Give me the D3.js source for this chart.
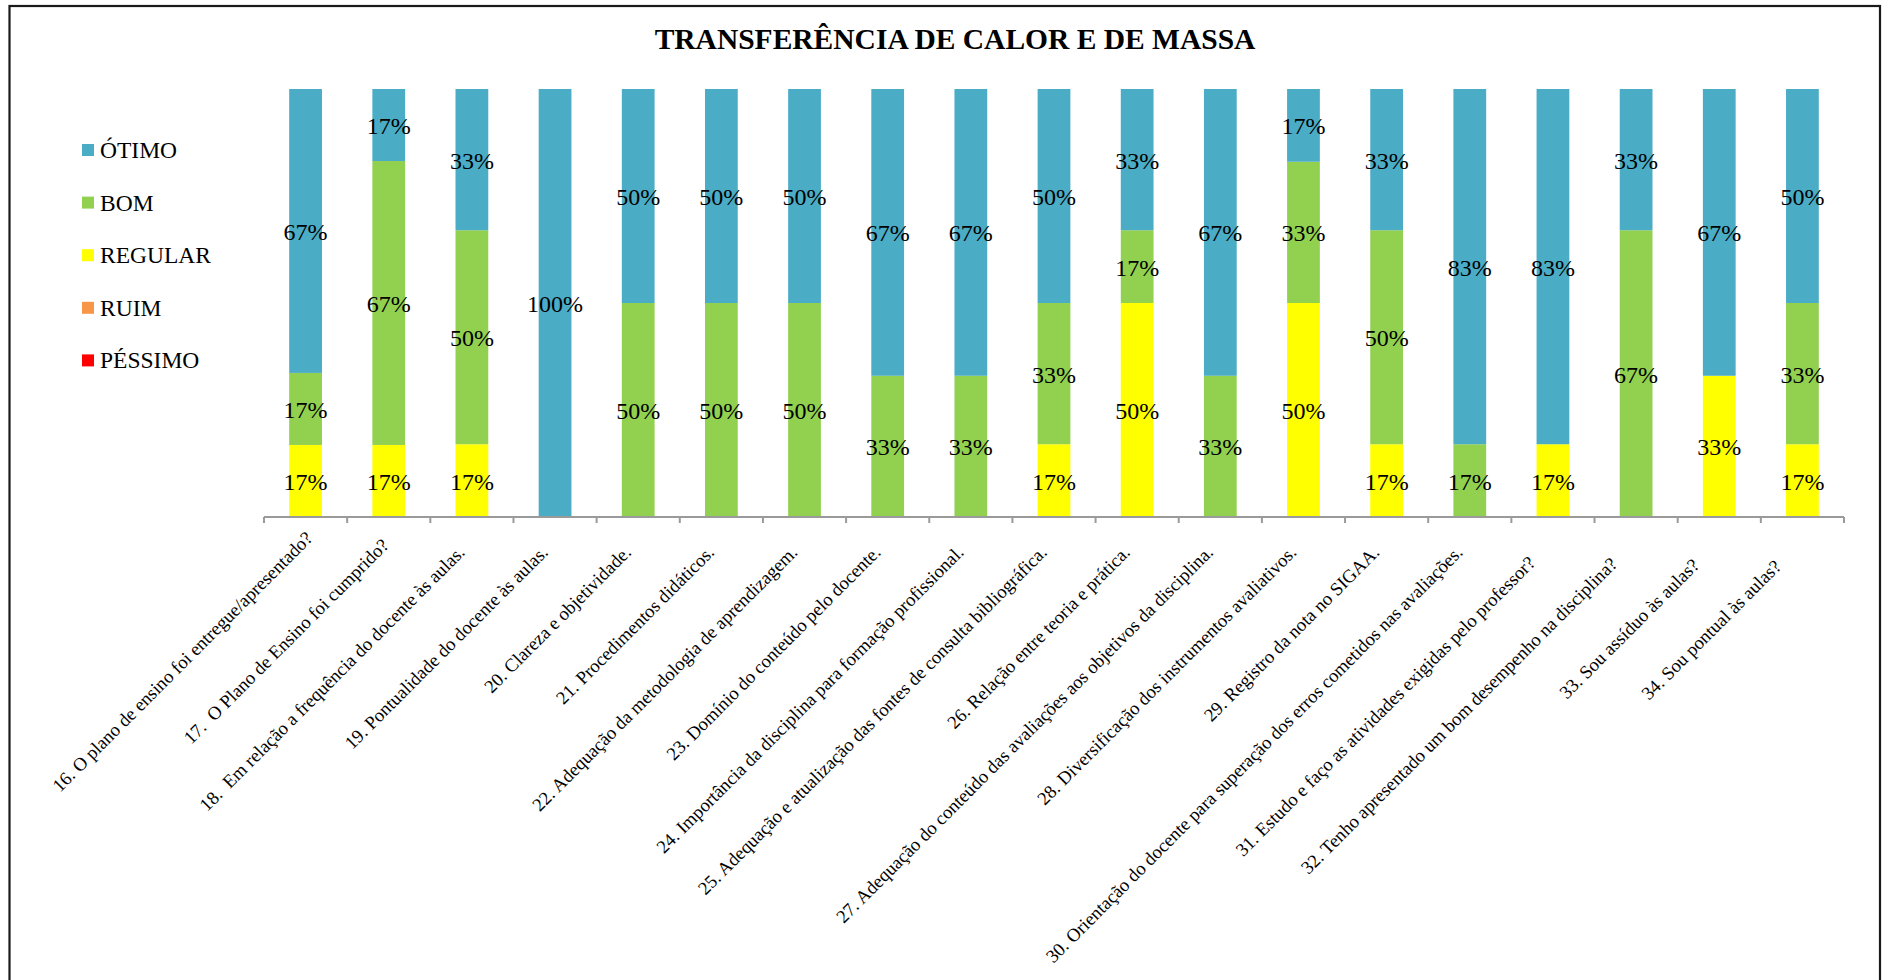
<!DOCTYPE html>
<html lang="pt">
<head>
<meta charset="utf-8">
<title>Transferência de Calor e de Massa</title>
<script src="https://cdn.jsdelivr.net/npm/d3@7"></script>
<style>
  html, body { margin: 0; padding: 0; background: #ffffff; }
  svg { display: block; }
  text { font-family: "Liberation Serif", "Times New Roman", Times, serif; fill: #000; }
</style>
</head>
<body>
<svg id="chart" width="1883" height="980"></svg>
<script>
// Questionnaire items (x categories)
const questions = [
  "16. O plano de ensino foi entregue/apresentado?",
  "17.  O Plano de Ensino foi cumprido?",
  "18.  Em relação a frequência do docente às aulas.",
  "19. Pontualidade do docente às aulas.",
  "20. Clareza e objetividade.",
  "21. Procedimentos didáticos.",
  "22. Adequação da metodologia de aprendizagem.",
  "23. Domínio do conteúdo pelo docente.",
  "24. Importância da disciplina para formação profissional.",
  "25. Adequação e atualização das fontes de consulta bibliográfica.",
  "26. Relação entre teoria e prática.",
  "27. Adequação do conteúdo das avaliações aos objetivos da disciplina.",
  "28. Diversificação dos instrumentos avaliativos.",
  "29. Registro da nota no SIGAA.",
  "30. Orientação do docente para superação dos erros cometidos nas avaliações.",
  "31. Estudo e faço as atividades exigidas pelo professor?",
  "32. Tenho apresentado um bom desempenho na disciplina?",
  "33. Sou assíduo às aulas?",
  "34. Sou pontual às aulas?"
];

// Answer shares (%) per rating, one value per question
const pessimo = [0, 0, 0, 0, 0, 0, 0, 0, 0, 0, 0, 0, 0, 0, 0, 0, 0, 0, 0];
const ruim    = [0, 0, 0, 0, 0, 0, 0, 0, 0, 0, 0, 0, 0, 0, 0, 0, 0, 0, 0];
const regular = [17, 17, 17, 0, 0, 0, 0, 0, 0, 17, 50, 0, 50, 17, 0, 17, 0, 33, 17];
const bom     = [17, 67, 50, 0, 50, 50, 50, 33, 33, 33, 17, 33, 33, 50, 17, 0, 67, 0, 33];
const otimo   = [67, 17, 33, 100, 50, 50, 50, 67, 67, 50, 33, 67, 17, 33, 83, 83, 33, 67, 50];

// Series, stacked bottom-to-top
const seriesNames  = ["PÉSSIMO", "RUIM", "REGULAR", "BOM", "ÓTIMO"];
const seriesValues = [pessimo, ruim, regular, bom, otimo];
const seriesColors = ["#FF0000", "#F79646", "#FFFF00", "#92D050", "#4BACC6"];

const title = "TRANSFERÊNCIA DE CALOR E DE MASSA";

// ---- layout ----
const W = 1883, H = 980;
const plot = { left: 264, right: 1844, top: 89, bottom: 517 };

const svg = d3.select("#chart");

// outer frame of the chart
svg.append("rect")
  .attr("x", 9.5).attr("y", 6)
  .attr("width", 1880 - 9.5).attr("height", H + 20)
  .attr("fill", "none")
  .attr("stroke", "#1a1a1a")
  .attr("stroke-width", 2.2);

// title
svg.append("text")
  .attr("x", 955).attr("y", 49)
  .attr("text-anchor", "middle")
  .style("font-weight", "bold")
  .style("font-size", "29.5px")
  .text(title);

// rows for the stack
const rows = questions.map((q, i) => {
  const r = { q };
  seriesNames.forEach((s, k) => { r[s] = seriesValues[k][i]; });
  return r;
});

const stack = d3.stack()
  .keys(seriesNames)
  .offset(d3.stackOffsetExpand);
const layers = stack(rows);

const x = d3.scaleBand()
  .domain(questions)
  .range([plot.left, plot.right])
  .paddingInner(0.606)
  .paddingOuter(0.303);

const y = d3.scaleLinear()
  .domain([0, 1])
  .range([plot.bottom, plot.top]);

const color = d3.scaleOrdinal().domain(seriesNames).range(seriesColors);

// bars
const gBars = svg.append("g");
layers.forEach(layer => {
  gBars.append("g")
    .attr("fill", color(layer.key))
    .selectAll("rect")
    .data(layer.filter(d => d.data[layer.key] > 0))
    .join("rect")
      .attr("x", d => x(d.data.q))
      .attr("width", x.bandwidth())
      .attr("y", d => y(d[1]))
      .attr("height", d => y(d[0]) - y(d[1]));
});

// value labels centred in each segment
const gLabels = svg.append("g")
  .attr("text-anchor", "middle")
  .style("font-size", "24px");
layers.forEach(layer => {
  gLabels.selectAll(null)
    .data(layer.filter(d => d.data[layer.key] > 0))
    .join("text")
      .attr("x", d => x(d.data.q) + x.bandwidth() / 2)
      .attr("y", d => (y(d[0]) + y(d[1])) / 2 + 9)
      .text(d => d.data[layer.key] + "%");
});

// category axis: line with tick marks between categories
const gAxis = svg.append("g");
gAxis.append("line")
  .attr("x1", plot.left).attr("x2", plot.right)
  .attr("y1", plot.bottom).attr("y2", plot.bottom)
  .attr("stroke", "#9a9a9a").attr("stroke-width", 2);
const boundaries = d3.range(questions.length + 1).map(i => plot.left + i * x.step());
gAxis.selectAll("line.tick")
  .data(boundaries)
  .join("line")
    .attr("class", "tick")
    .attr("x1", d => d).attr("x2", d => d)
    .attr("y1", plot.bottom).attr("y2", plot.bottom + 6)
    .attr("stroke", "#9a9a9a").attr("stroke-width", 2);

// rotated category labels: text end sits just below-left of the category centre,
// pulled back along the text direction a little more towards the right end
const n = questions.length;
const alongShift = d3.scaleLinear()
  .domain([0, 2, 14, 15, 18])
  .range([-10, -30, -30, -45, -50]);
const perpShift = 21.5;
gAxis.selectAll("text")
  .data(questions)
  .join("text")
    .attr("text-anchor", "end")
    .style("font-size", "18.6px")
    .style("white-space", "pre")
    .attr("transform", (q, i) => {
      const along = alongShift(i);
      const cx = x(q) + x.bandwidth() / 2 + Math.SQRT1_2 * (along + perpShift);
      const cy = plot.bottom + Math.SQRT1_2 * (perpShift - along);
      return `translate(${cx},${cy}) rotate(-45)`;
    })
    .text(q => q);

// legend (top-to-bottom: ÓTIMO … PÉSSIMO)
const legendOrder = seriesNames.slice().reverse();
const gLegend = svg.append("g");
const legendItem = gLegend.selectAll("g")
  .data(legendOrder)
  .join("g")
    .attr("transform", (d, i) => `translate(82, ${150 + i * 52.6})`);
legendItem.append("rect")
  .attr("x", 0).attr("y", -6)
  .attr("width", 12).attr("height", 12)
  .attr("fill", d => color(d));
legendItem.append("text")
  .attr("x", 18).attr("y", 8)
  .style("font-size", "23.5px")
  .text(d => d);
</script>
</body>
</html>
